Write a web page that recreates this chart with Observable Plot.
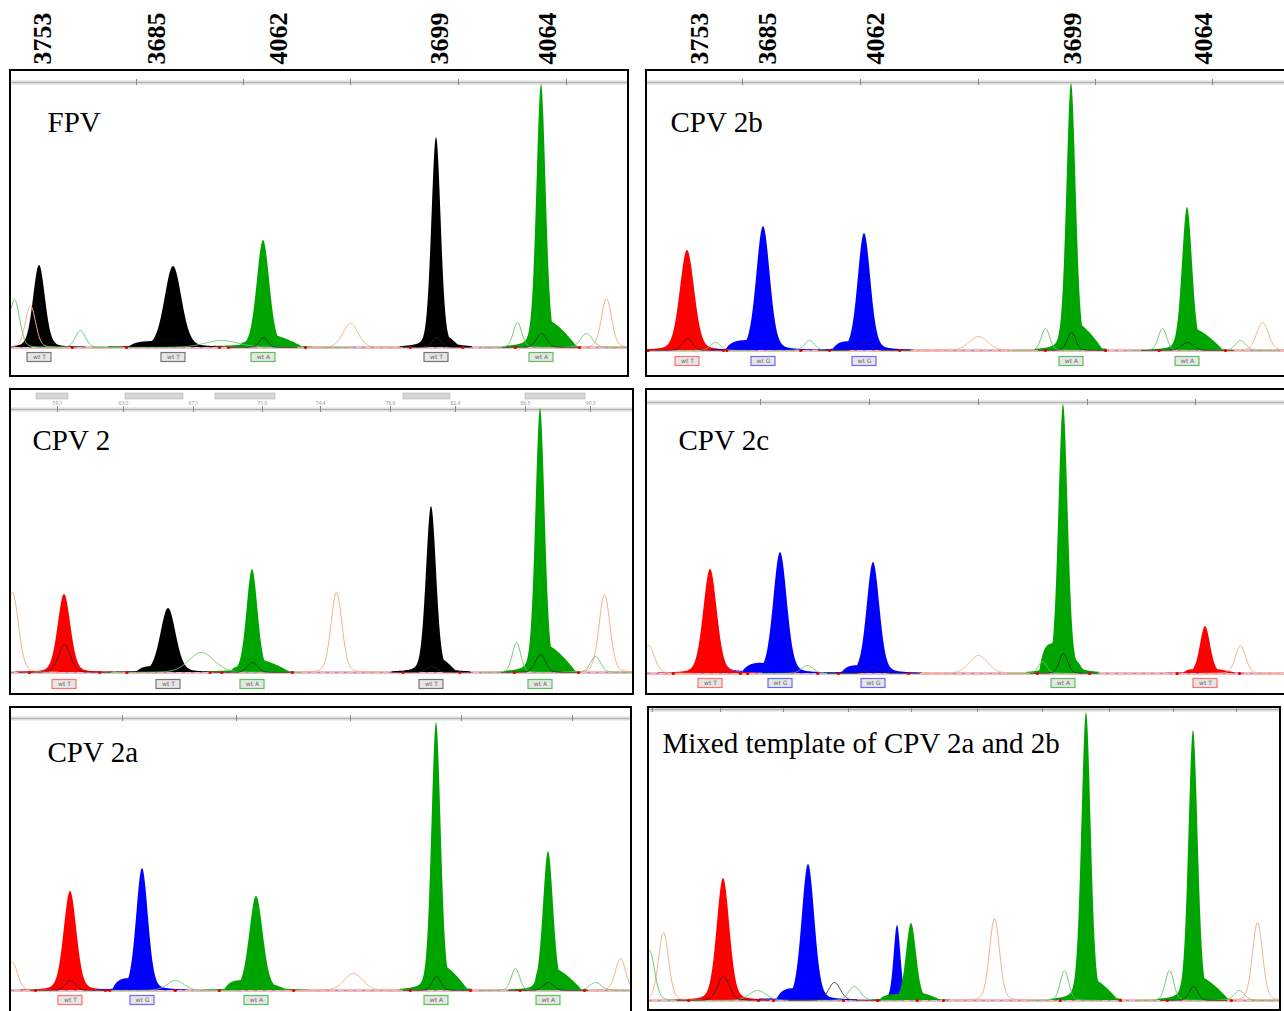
<!DOCTYPE html>
<html><head><meta charset="utf-8">
<script src="https://cdn.jsdelivr.net/npm/d3@7"></script>
<script src="https://cdn.jsdelivr.net/npm/@observablehq/plot@0.6"></script>
<style>
body{margin:0;background:#fff;}
#page{position:relative;width:1284px;height:1011px;overflow:hidden;background:#fff;}
.panel{position:absolute;border:2px solid #000;box-sizing:border-box;background:#fff;overflow:hidden;}
.panel svg,#header svg{display:block;}
#header{position:absolute;left:0;top:0;}
</style></head><body><div id="page"><div id="header"></div></div>
<script>
// ---------- DATA ----------
const markers = ["3753", "3685", "4062", "3699", "4064"];
const markerPosLeft = [32, 146, 268, 429, 537];   // scan position, left-column panels
const markerPosRight = [53, 121, 229, 426, 557];  // scan position, right-column panels

const titles = ["FPV", "CPV 2b", "CPV 2", "CPV 2c", "CPV 2a", "Mixed template of CPV 2a and 2b"];

// peaks: [position, height (RFU), fwhm, dye, leftShoulderH, leftShoulderW, rightShoulderH, rightShoulderW]
// dye: A = green, C = black, G = blue, T = red
const fpvPeaks = [
  [28, 82, 14, "C", 0, 0, 3, 22],
  [162, 81, 20, "C", 6, 45, 5, 32],
  [252, 107, 15, "A", 6, 25, 14, 40],
  [425, 210, 11, "C", 18, 11, 16, 24],
  [530, 263, 11, "A", 22, 11, 30, 36]
];
const cpv2bPeaks = [
  [40, 100, 17, "T", 0, 0, 3, 22],
  [116, 124, 16, "G", 10, 38, 5, 28],
  [217, 117, 15, "G", 9, 32, 6, 28],
  [424, 267, 11, "A", 30, 14, 30, 32],
  [540, 143, 12, "A", 22, 12, 24, 36]
];
const cpv2Peaks = [
  [53, 78, 15, "T", 0, 0, 3, 22],
  [157, 64, 18, "C", 6, 32, 5, 28],
  [241, 103, 13, "A", 6, 22, 14, 38],
  [420, 166, 12, "C", 20, 12, 18, 26],
  [529, 264, 11, "A", 28, 12, 30, 36]
];
const cpv2cPeaks = [
  [63, 104, 16, "T", 0, 0, 3, 22],
  [133, 121, 16, "G", 10, 38, 5, 24],
  [226, 111, 15, "G", 8, 32, 5, 28],
  [416, 269, 11, "A", 30, 24, 24, 22],
  [558, 47, 12, "T", 4, 22, 5, 32]
];
const cpv2aPeaks = [
  [59, 99, 15, "T", 0, 0, 3, 20],
  [131, 122, 14, "G", 12, 30, 5, 22],
  [245, 94, 16, "A", 10, 32, 9, 32],
  [425, 268, 11, "A", 30, 12, 28, 32],
  [537, 139, 12, "A", 24, 14, 24, 34]
];
const mixedPeaks = [
  [74, 122, 15, "T", 0, 0, 3, 20],
  [159, 136, 15, "G", 12, 32, 6, 28],
  [248, 75, 8, "G", 0, 0, 0, 0],
  [262, 77, 12, "A", 6, 32, 9, 30],
  [437, 288, 11, "A", 28, 10, 24, 32],
  [544, 270, 11, "A", 26, 12, 26, 36]
];

// unfilled traces: [position, height, fwhm, kind]  S = size standard, a = A-channel trace, k = dark trace
const fpvTraces = [[19, 42, 12, "S"], [3, 48, 12, "a"], [69, 17, 12, "a"], [210, 7, 40, "a"], [339, 24, 18, "S"], [506, 25, 10, "a"], [575, 14, 14, "a"], [595, 49, 12, "S"], [252, 10, 10, "k"], [425, 10, 10, "k"], [530, 14, 12, "k"]];
const cpv2bTraces = [[68, 8, 12, "a"], [162, 10, 12, "a"], [331, 14, 22, "S"], [398, 22, 10, "a"], [515, 22, 10, "a"], [593, 10, 12, "a"], [615, 28, 14, "S"], [40, 12, 12, "k"], [217, 8, 14, "k"], [424, 18, 10, "k"], [540, 8, 14, "k"]];
const cpv2Traces = [[1, 80, 14, "S"], [325, 80, 13, "S"], [593, 78, 13, "S"], [190, 20, 30, "a"], [505, 30, 10, "a"], [584, 16, 12, "a"], [53, 28, 14, "k"], [241, 10, 12, "k"], [420, 6, 12, "k"], [529, 18, 12, "k"]];
const cpv2cTraces = [[1, 28, 14, "S"], [331, 18, 22, "S"], [593, 28, 12, "S"], [160, 8, 14, "a"], [395, 12, 10, "a"], [416, 20, 10, "k"], [226, 6, 14, "k"]];
const cpv2aTraces = [[1, 28, 12, "S"], [342, 17, 22, "S"], [609, 32, 12, "S"], [164, 10, 20, "a"], [504, 22, 10, "a"], [584, 8, 14, "a"], [59, 10, 12, "k"], [425, 14, 10, "k"], [537, 8, 12, "k"]];
const mixedTraces = [[14, 68, 12, "S"], [0, 50, 12, "a"], [345, 82, 12, "S"], [608, 78, 12, "S"], [74, 24, 14, "k"], [108, 10, 20, "a"], [185, 18, 14, "k"], [205, 14, 14, "a"], [415, 30, 10, "a"], [520, 30, 10, "a"], [544, 14, 10, "k"], [590, 10, 12, "a"]];

// top ruler ticks (scan positions)
const fpvTicks = [125, 232, 339, 447, 555];
const cpv2bTicks = [95, 213, 331, 448, 565];
const cpv2Ticks = [46, 112, 182, 251, 309, 379, 444, 514, 579];
const cpv2Labels = ["59.1", "63.0", "67.1", "71.0", "74.4", "78.6", "82.4", "86.5", "90.3"];
const cpv2Bins = [[25, 57], [114, 172], [204, 264], [392, 439], [514, 574]];
const cpv2cTicks = [113, 222, 331, 440, 548];
const cpv2aTicks = [111, 225, 339, 450, 561];
const mixedTicks = [3, 71, 134, 199, 262, 328, 393, 460, 524, 587];

// ---------- STYLE / LAYOUT ----------
const dyeColor = {A: "#00a400", C: "#000000", G: "#0000ff", T: "#ff0000"};
const traceColor = {S: "#f5b08a", a: "#6cc86c", k: "#2a2a2a"};
const boxLabel = {A: "wt A", C: "wt T", G: "wt G", T: "wt T"};
const boxStroke = {A: "#5cc05c", C: "#777", G: "#6a6aff", T: "#ff7070"};

// [left, top, width, height, marginBottom, rulerOffset, titleDx, titleDy, boxGap, showBoxes]
const layout = [
  [9, 69, 620, 308, 28, 11, 36, 60, 10, true],
  [645, 69, 660, 308, 25, 11, 23, 60, 11, true],
  [9, 388, 625, 307, 21, 19, 21, 59, 12, true],
  [645, 388, 660, 307, 20, 12, 31, 59, 10, true],
  [9, 706, 623, 310, 24, 10, 36, 53, 10, true],
  [647, 706, 634, 305, 9, 1, 13, 44, 10, false]
];
const panelPeaks = [fpvPeaks, cpv2bPeaks, cpv2Peaks, cpv2cPeaks, cpv2aPeaks, mixedPeaks];
const panelTraces = [fpvTraces, cpv2bTraces, cpv2Traces, cpv2cTraces, cpv2aTraces, mixedTraces];
const panelTicks = [fpvTicks, cpv2bTicks, cpv2Ticks, cpv2cTicks, cpv2aTicks, mixedTicks];

// ---------- RENDER ----------
function shape(p, x) {
  const [pos, h, fw, , sl, wl, sr, wr] = p;
  const d = x - pos;
  const q = 4 * d * d / (fw * fw);
  let y = h * (0.8 * Math.exp(-Math.LN2 * q) + 0.2 / (1 + q));
  if (d <= 0 && wl > 0 && -d < wl) y = Math.max(y, sl * (1 - Math.pow(-d / wl, 6)));
  if (d > 0 && wr > 0 && d < wr) y = Math.max(y, sr * (1 - Math.pow(d / wr, 1.6)));
  return y;
}
function sample(list, W, colorOf, prefix) {
  const pts = [];
  list.forEach((p, i) => {
    const fw = p[2];
    const lo = Math.max(0, p[0] - Math.max(p[5] || 0, 3.2 * fw) - 1);
    const hi = Math.min(W, p[0] + Math.max(p[7] || 0, 3.2 * fw) + 1);
    for (let x = lo; x <= hi + 1e-9; x += 0.5) {
      pts.push({id: prefix + i, x, y: shape(p, x), color: colorOf(p[3])});
    }
  });
  return pts;
}

const page = document.getElementById("page");

layout.forEach((L, k) => {
  const [left, top, w, h, mb, rOff, tdx, tdy, gap, showBoxes] = L;
  const W = w - 4, H = h - 4, PH = H - mb;
  const peaks = panelPeaks[k], traces = panelTraces[k];
  const area = sample(peaks, W, d => dyeColor[d], "p");
  const lines = sample(traces.map(t => [t[0], t[1], t[2], t[3], 0, 0, 0, 0]), W, d => traceColor[d], "t");
  const darkLines = lines.filter(d => d.color === traceColor.k);
  const lightLines = lines.filter(d => d.color !== traceColor.k);
  const rulerY = PH - rOff;
  const ends = [];
  peaks.forEach(p => {
    ends.push(p[0] - Math.max(p[5], 2.2 * p[2]) - 2);
    ends.push(p[0] + Math.max(p[7], 2.2 * p[2]) + 2);
  });
  const marks = [
    Plot.ruleY([rulerY], {stroke: "#dcdcdc", strokeWidth: 4}),
    Plot.ruleY([rulerY], {stroke: "#b5b5b5", strokeWidth: 1}),
    Plot.ruleX(panelTicks[k], {x: d => d, y1: rulerY - 3, y2: rulerY + 3, stroke: "#8a8a8a", strokeWidth: 1}),
    Plot.ruleY([0], {stroke: "#f3b9b9", strokeWidth: 3}),
    Plot.ruleY([0], {stroke: "#8f96d8", strokeWidth: 1, strokeDasharray: "3,6"}),
    Plot.areaY(area, {x: "x", y: "y", z: "id", fill: "color", curve: "linear"}),
    Plot.lineY(lightLines, {x: "x", y: "y", z: "id", stroke: "color", strokeWidth: 1}),
    Plot.lineY(darkLines, {x: "x", y: "y", z: "id", stroke: "color", strokeWidth: 0.9}),
    Plot.dot(ends, {x: d => d, y: 0, r: 1.6, fill: "#e00000"})
  ];
  if (k === 2) {
    marks.push(Plot.rect(cpv2Bins, {x1: d => d[0], x2: d => d[1], y1: PH - 3, y2: PH - 9, fill: "#d6d6d6", stroke: "#aaa", strokeWidth: 0.5}));
    marks.push(Plot.text(cpv2Labels, {x: (d, i) => cpv2Ticks[i], y: PH - 13, text: d => d, fontSize: 5, fill: "#999"}));
  }
  if (showBoxes) {
    marks.push(Plot.rect(peaks, {x1: d => d[0] - 12, x2: d => d[0] + 12, y1: -(gap - 4.5), y2: -(gap + 4.5), fill: "#e6e6e6", stroke: d => boxStroke[d[3]], strokeWidth: 1.2}));
    marks.push(Plot.text(peaks, {x: d => d[0], y: -gap, text: d => boxLabel[d[3]], fontSize: 6, fill: "#666", fontFamily: "DejaVu Sans"}));
  }
  marks.push(Plot.text([titles[k]], {frameAnchor: "top-left", dx: tdx, dy: tdy, text: d => d, textAnchor: "start", lineAnchor: "bottom", fontSize: 29, fontFamily: "Liberation Serif", fill: "#000"}));

  const chart = Plot.plot({
    width: W, height: H,
    marginTop: 0, marginRight: 0, marginLeft: 0, marginBottom: mb,
    x: {domain: [0, W], axis: null},
    y: {domain: [0, PH], axis: null},
    color: {type: "identity"},
    style: {background: "transparent", overflow: "visible"},
    marks
  });
  const div = document.createElement("div");
  div.className = "panel";
  div.style.left = left + "px";
  div.style.top = top + "px";
  div.style.width = w + "px";
  div.style.height = h + "px";
  div.appendChild(chart);
  page.appendChild(div);
});

// column header: marker names over both columns
const colInner = [layout[0][0] + 2, layout[1][0] + 2];
const headerData = [
  ...markers.map((m, i) => ({x: colInner[0] + markerPosLeft[i], m})),
  ...markers.map((m, i) => ({x: colInner[1] + markerPosRight[i], m}))
];
const header = Plot.plot({
  width: 1284, height: 68,
  margin: 0,
  x: {domain: [0, 1284], axis: null},
  marks: [
    Plot.text(headerData, {x: "x", frameAnchor: "bottom", dx: 7, dy: -4, text: "m", rotate: -90, textAnchor: "start", fontSize: 26, fontWeight: "bold", fontFamily: "Liberation Serif", fill: "#000"})
  ],
  style: {background: "transparent"}
});
document.getElementById("header").appendChild(header);
</script></body></html>
